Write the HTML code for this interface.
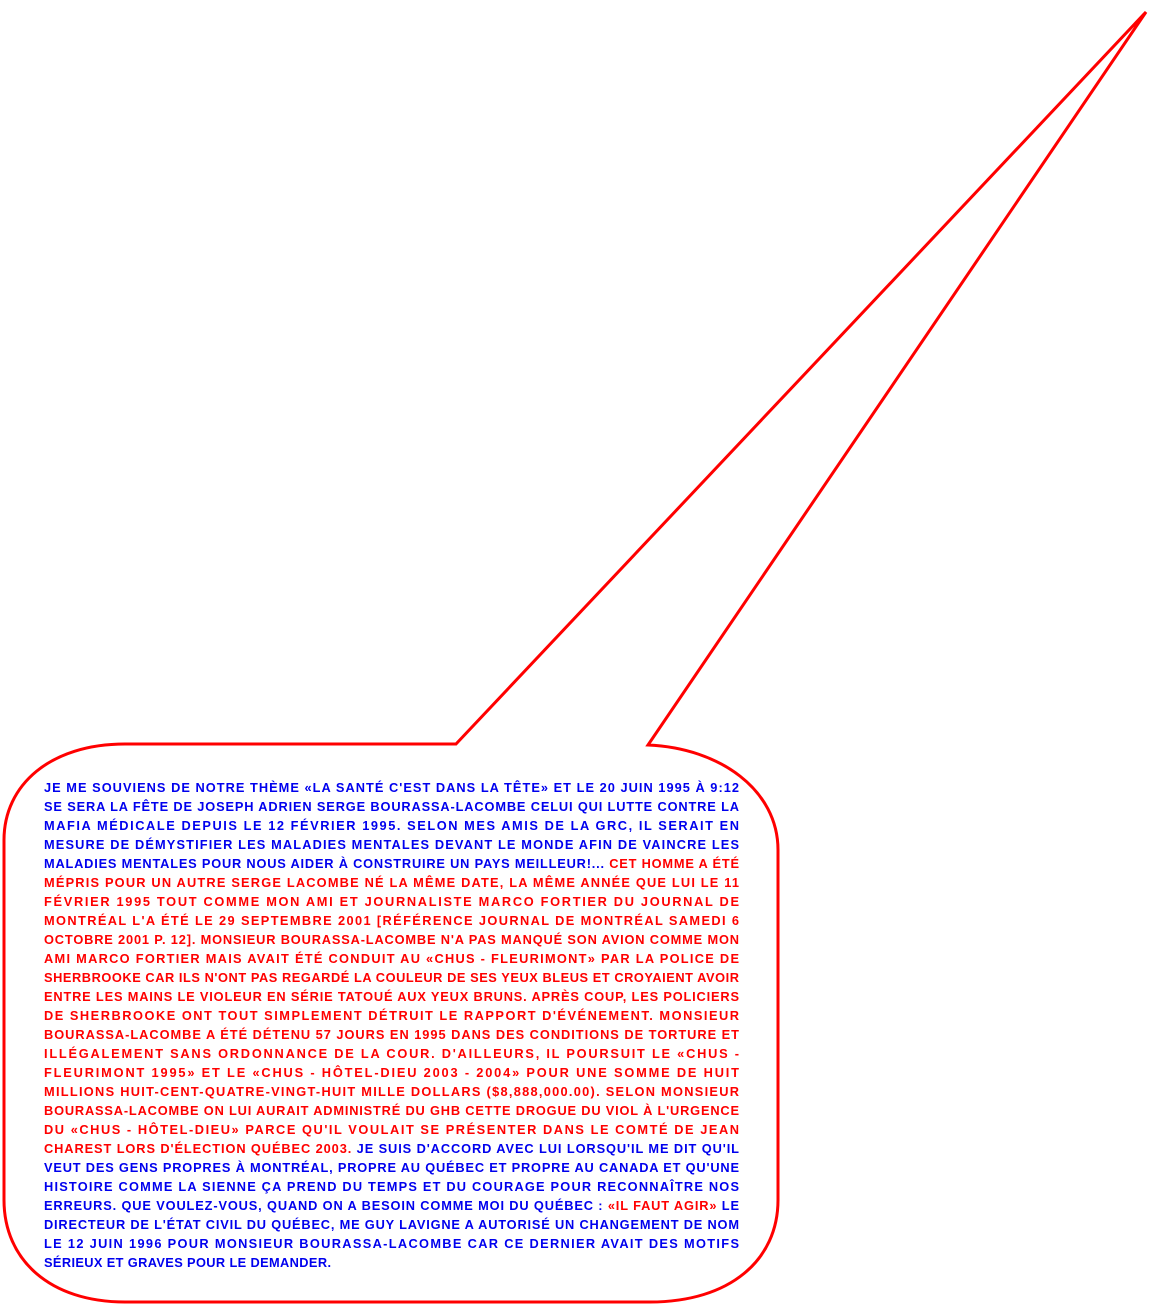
<!DOCTYPE html>
<html><head><meta charset="utf-8"><style>
html,body{margin:0;padding:0;background:#fff;}
svg{display:block;}
text{font-family:"Liberation Sans","DejaVu Sans",sans-serif;font-weight:bold;font-size:12.8px;}
.b{fill:#0000ee;} .r{fill:#ff0000;}
</style></head><body>
<svg width="1157" height="1307" viewBox="0 0 1157 1307">
<path d="M456,744 L1146,12 L648,745 C720,748 778,790 778,850 L778,1200 C778,1260 730,1302 650,1302 L125,1302 C50,1302 4,1260 4,1200 L4,840 C4,785 50,744 125,744 Z" fill="#fff" stroke="#ff0000" stroke-width="3" stroke-linejoin="miter"/>
<g>
<text x="44" y="792" textLength="695" lengthAdjust="spacing" class="b">JE ME SOUVIENS DE NOTRE THÈME «LA SANTÉ C'EST DANS LA TÊTE» ET LE 20 JUIN 1995 À 9:12</text>
<text x="44" y="811" textLength="695" lengthAdjust="spacing" class="b">SE SERA LA FÊTE DE JOSEPH ADRIEN SERGE BOURASSA-LACOMBE CELUI QUI LUTTE CONTRE LA</text>
<text x="44" y="830" textLength="695" lengthAdjust="spacing" class="b">MAFIA MÉDICALE DEPUIS LE 12 FÉVRIER 1995. SELON MES AMIS DE LA GRC, IL SERAIT EN</text>
<text x="44" y="849" textLength="695" lengthAdjust="spacing" class="b">MESURE DE DÉMYSTIFIER LES MALADIES MENTALES DEVANT LE MONDE AFIN DE VAINCRE LES</text>
<text x="44" y="868" textLength="695" lengthAdjust="spacing" class="b">MALADIES MENTALES POUR NOUS AIDER À CONSTRUIRE UN PAYS MEILLEUR!... <tspan class="r">CET HOMME A ÉTÉ</tspan></text>
<text x="44" y="887" textLength="695" lengthAdjust="spacing" class="r">MÉPRIS POUR UN AUTRE SERGE LACOMBE NÉ LA MÊME DATE, LA MÊME ANNÉE QUE LUI LE 11</text>
<text x="44" y="906" textLength="695" lengthAdjust="spacing" class="r">FÉVRIER 1995 TOUT COMME MON AMI ET JOURNALISTE MARCO FORTIER DU JOURNAL DE</text>
<text x="44" y="925" textLength="695" lengthAdjust="spacing" class="r">MONTRÉAL L'A ÉTÉ LE 29 SEPTEMBRE 2001 [RÉFÉRENCE JOURNAL DE MONTRÉAL SAMEDI 6</text>
<text x="44" y="944" textLength="695" lengthAdjust="spacing" class="r">OCTOBRE 2001 P. 12]. MONSIEUR BOURASSA-LACOMBE N'A PAS MANQUÉ SON AVION COMME MON</text>
<text x="44" y="963" textLength="695" lengthAdjust="spacing" class="r">AMI MARCO FORTIER MAIS AVAIT ÉTÉ CONDUIT AU «CHUS - FLEURIMONT» PAR LA POLICE DE</text>
<text x="44" y="982" textLength="695" lengthAdjust="spacing" class="r">SHERBROOKE CAR ILS N'ONT PAS REGARDÉ LA COULEUR DE SES YEUX BLEUS ET CROYAIENT AVOIR</text>
<text x="44" y="1001" textLength="695" lengthAdjust="spacing" class="r">ENTRE LES MAINS LE VIOLEUR EN SÉRIE TATOUÉ AUX YEUX BRUNS. APRÈS COUP, LES POLICIERS</text>
<text x="44" y="1020" textLength="695" lengthAdjust="spacing" class="r">DE SHERBROOKE ONT TOUT SIMPLEMENT DÉTRUIT LE RAPPORT D'ÉVÉNEMENT. MONSIEUR</text>
<text x="44" y="1039" textLength="695" lengthAdjust="spacing" class="r">BOURASSA-LACOMBE A ÉTÉ DÉTENU 57 JOURS EN 1995 DANS DES CONDITIONS DE TORTURE ET</text>
<text x="44" y="1058" textLength="695" lengthAdjust="spacing" class="r">ILLÉGALEMENT SANS ORDONNANCE DE LA COUR. D'AILLEURS, IL POURSUIT LE «CHUS -</text>
<text x="44" y="1077" textLength="695" lengthAdjust="spacing" class="r">FLEURIMONT 1995» ET LE «CHUS - HÔTEL-DIEU 2003 - 2004» POUR UNE SOMME DE HUIT</text>
<text x="44" y="1096" textLength="695" lengthAdjust="spacing" class="r">MILLIONS HUIT-CENT-QUATRE-VINGT-HUIT MILLE DOLLARS ($8,888,000.00). SELON MONSIEUR</text>
<text x="44" y="1115" textLength="695" lengthAdjust="spacing" class="r">BOURASSA-LACOMBE ON LUI AURAIT ADMINISTRÉ DU GHB CETTE DROGUE DU VIOL À L'URGENCE</text>
<text x="44" y="1134" textLength="695" lengthAdjust="spacing" class="r">DU «CHUS - HÔTEL-DIEU» PARCE QU'IL VOULAIT SE PRÉSENTER DANS LE COMTÉ DE JEAN</text>
<text x="44" y="1153" textLength="695" lengthAdjust="spacing" class="r">CHAREST LORS D'ÉLECTION QUÉBEC 2003. <tspan class="b">JE SUIS D'ACCORD AVEC LUI LORSQU'IL ME DIT QU'IL</tspan></text>
<text x="44" y="1172" textLength="695" lengthAdjust="spacing" class="b">VEUT DES GENS PROPRES À MONTRÉAL, PROPRE AU QUÉBEC ET PROPRE AU CANADA ET QU'UNE</text>
<text x="44" y="1191" textLength="695" lengthAdjust="spacing" class="b">HISTOIRE COMME LA SIENNE ÇA PREND DU TEMPS ET DU COURAGE POUR RECONNAÎTRE NOS</text>
<text x="44" y="1210" textLength="695" lengthAdjust="spacing" class="b">ERREURS. QUE VOULEZ-VOUS, QUAND ON A BESOIN COMME MOI DU QUÉBEC : <tspan class="r">«IL FAUT AGIR»</tspan> LE</text>
<text x="44" y="1229" textLength="695" lengthAdjust="spacing" class="b">DIRECTEUR DE L'ÉTAT CIVIL DU QUÉBEC, ME GUY LAVIGNE A AUTORISÉ UN CHANGEMENT DE NOM</text>
<text x="44" y="1248" textLength="695" lengthAdjust="spacing" class="b">LE 12 JUIN 1996 POUR MONSIEUR BOURASSA-LACOMBE CAR CE DERNIER AVAIT DES MOTIFS</text>
<text x="44" y="1267" textLength="287" lengthAdjust="spacing" class="b">SÉRIEUX ET GRAVES POUR LE DEMANDER.</text>
</g>
</svg>
</body></html>
